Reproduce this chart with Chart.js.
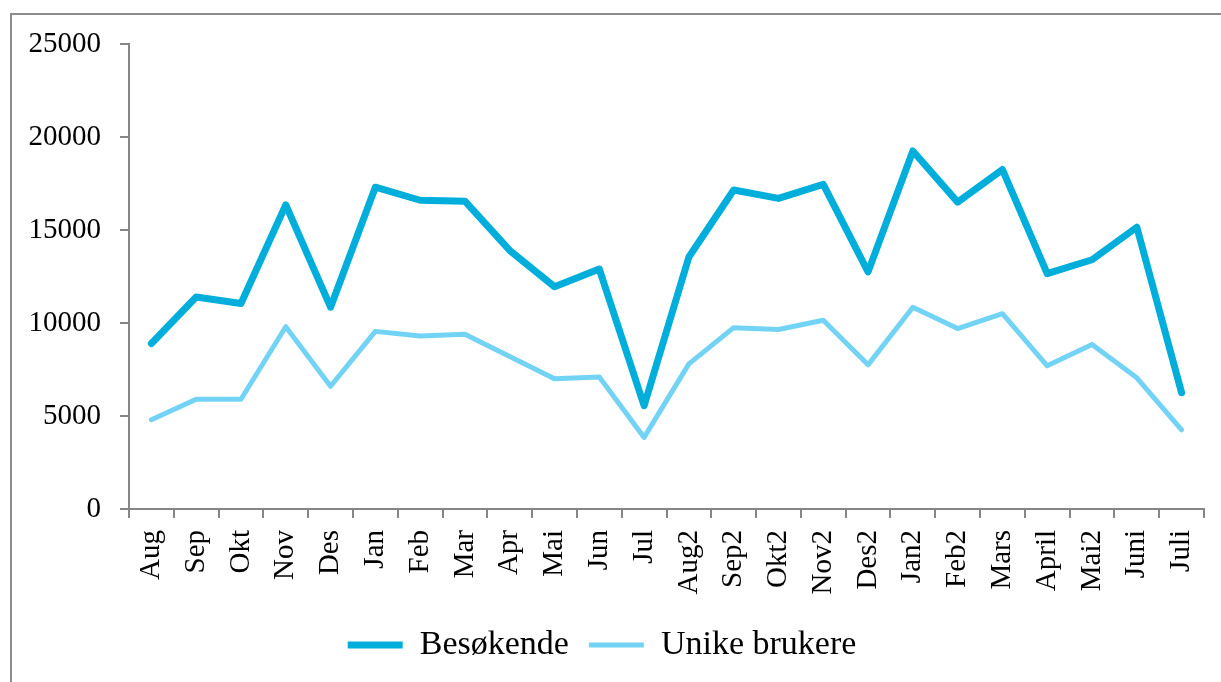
<!DOCTYPE html>
<html>
<head>
<meta charset="utf-8">
<script src="https://cdn.jsdelivr.net/npm/chart.js@4"></script>
<style>
  html, body { margin: 0; padding: 0; background: #fff; overflow: hidden; }
  #frame {
    position: absolute; left: 10px; top: 13px; width: 1240px; height: 700px;
    border: 2px solid #8c8c8c; box-sizing: border-box;
  }
  #wrap { position: absolute; left: 0; top: 0; width: 1221px; height: 682px; }
</style>
</head>
<body>
<div id="frame"></div>
<div id="wrap"><canvas id="chart"></canvas></div>
<script>
// ─── Data ─────────────────────────────────────────────────────────────
const months = [
  'Aug', 'Sep', 'Okt', 'Nov', 'Des', 'Jan', 'Feb', 'Mar', 'Apr', 'Mai', 'Jun', 'Jul',
  'Aug2', 'Sep2', 'Okt2', 'Nov2', 'Des2', 'Jan2', 'Feb2', 'Mars', 'April', 'Mai2', 'Juni', 'Juli'
];
const besokende = [
  8900, 11400, 11050, 16350, 10850, 17300, 16600, 16550, 13900, 11950, 12900, 5550,
  13550, 17150, 16700, 17450, 12750, 19250, 16500, 18250, 12650, 13400, 15150, 6250
];
const unikeBrukere = [
  4800, 5900, 5900, 9800, 6600, 9550, 9300, 9400, 8200, 7000, 7100, 3850,
  7800, 9750, 9650, 10150, 7750, 10850, 9700, 10500, 7700, 8850, 7050, 4250
];
const yTicks = [0, 5000, 10000, 15000, 20000, 25000];

const serif = "'Liberation Serif', 'Times New Roman', serif";
const axisGray = '#868686';

new Chart(document.getElementById('chart'), {
  type: 'line',
  data: {
    labels: months,
    datasets: [
      {
        label: 'Besøkende',
        data: besokende,
        borderColor: '#00AEDB',
        backgroundColor: '#00AEDB',
        borderWidth: 7,
        borderCapStyle: 'round',
        borderJoinStyle: 'round',
        pointRadius: 0,
        tension: 0
      },
      {
        label: 'Unike brukere',
        data: unikeBrukere,
        borderColor: '#73D3F4',
        backgroundColor: '#73D3F4',
        borderWidth: 5,
        borderCapStyle: 'round',
        borderJoinStyle: 'round',
        pointRadius: 0,
        tension: 0
      }
    ]
  },
  options: {
    responsive: true,
    maintainAspectRatio: false,
    animation: false,
    layout: { padding: { top: 44, right: 17, bottom: 10, left: 0 } },
    plugins: {
      tooltip: { enabled: false },
      legend: {
        position: 'bottom',
        labels: {
          font: { family: serif, size: 34 },
          color: '#000',
          usePointStyle: true,
          pointStyle: 'line',
          pointStyleWidth: 55,
          boxHeight: 34,
          padding: 20
        }
      }
    },
    scales: {
      x: {
        offset: true,
        afterFit: (s) => { s.height = 99; s.paddingLeft = 0; s.paddingRight = 0; },
        grid: {
          offset: true,
          drawOnChartArea: false,
          drawTicks: true,
          tickLength: 9,
          color: axisGray,
          lineWidth: 2
        },
        border: { display: true, color: axisGray, width: 2 },
        ticks: {
          font: { family: serif, size: 29 },
          color: '#000',
          minRotation: 90,
          maxRotation: 90,
          autoSkip: false,
          padding: 12
        }
      },
      y: {
        min: 0,
        max: 25000,
        afterFit: (s) => { s.width = 129; },
        afterBuildTicks: (s) => { s.ticks = yTicks.map(v => ({ value: v })); },
        grid: {
          drawOnChartArea: false,
          drawTicks: true,
          tickLength: 9,
          color: axisGray,
          lineWidth: 2
        },
        border: { display: true, color: axisGray, width: 2 },
        ticks: {
          font: { family: serif, size: 29 },
          color: '#000',
          padding: 19,
          callback: (v) => String(v)
        }
      }
    }
  }
});
</script>
</body>
</html>
